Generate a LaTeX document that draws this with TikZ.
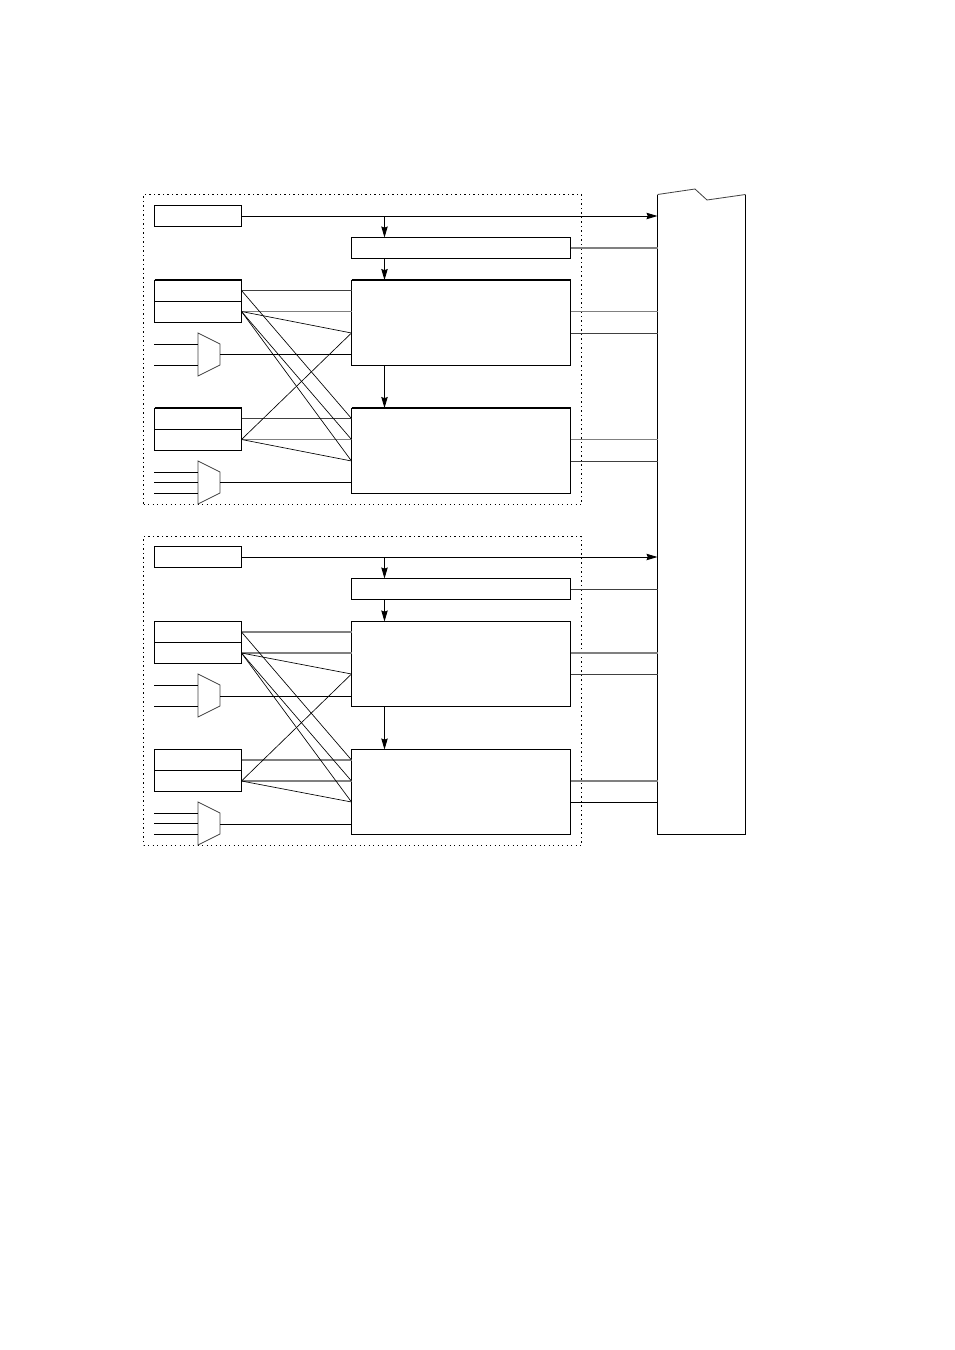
\documentclass[tikz,border=0pt]{standalone}
\usetikzlibrary{arrows.meta}
\tikzset{
  box/.style={draw,anchor=north west,inner sep=0pt,outer sep=0pt,line width=0.5pt},
  group/.style={box,line width=0.6pt,dash pattern=on 0.6pt off 1.65pt},
  wire/.style={line width=0.45pt},
  pale/.style={line width=0.7pt,black!50},
  cross/.style={line width=0.33pt},
  selector/.style={line width=0.4pt,black!75},
  feed/.style={wire,-{Stealth[length=5.5pt,width=3.2pt,inset=0.6pt]}}
}
\begin{document}
\begin{tikzpicture}[x=0.5pt,y=-0.5pt]
  \useasboundingbox (0,0) rectangle (954,1350);

  % ====================================================
  % RIGHT: TALL BOX WITH BROKEN TOP
  % ====================================================
  \node[minimum width=44pt,minimum height=320pt,inner sep=0pt,outer sep=0pt,anchor=north west] (tall) at (657.5,194.5) {};
  \draw[line width=0.5pt] (tall.south west) -- (tall.north west);
  \draw[selector] (tall.north west) -- (695,189) -- (707,200) -- (tall.north east);
  \draw[line width=0.5pt] (tall.north east) -- (tall.south east) -- (tall.south west);

  % ====================================================
  % UPPER GROUP
  % ====================================================
  \begin{scope}[shift={(0,0)}]
    \node[group,minimum width=219pt,minimum height=155pt] (groupa) at (143.5,194.5) {};

    \node[box,minimum width=43.5pt,minimum height=10.5pt] (topa) at (154.5,205.5) {};
    \node[box,minimum width=109.5pt,minimum height=10.5pt] (widea) at (351.5,237.5) {};

    \node[box,minimum width=43.5pt,minimum height=10.5pt] (regaa) at (154.5,280) {};
    \node[box,minimum width=43.5pt,minimum height=10.5pt] (regab) at (154.5,301) {};
    \node[box,minimum width=43.5pt,minimum height=10.5pt] (regac) at (154.5,408) {};
    \node[box,minimum width=43.5pt,minimum height=10.5pt] (regad) at (154.5,429) {};

    \node[box,minimum width=109.5pt,minimum height=42.5pt] (mainaa) at (351.5,280) {};
    \node[box,minimum width=109.5pt,minimum height=42.5pt] (mainab) at (351.5,408) {};
    \draw[line width=0.9pt] (regaa.north west) -- (regaa.north east);
    \draw[line width=0.9pt] (regac.north west) -- (regac.north east);
    \draw[line width=0.9pt] (mainaa.north west) -- (mainaa.north east);
    \draw[line width=0.9pt] (mainab.north west) -- (mainab.north east);

    % selectors
    \draw[selector] (198,333) -- (220,344) -- (220,365) -- (198,376) -- cycle;
    \draw[selector] (198,461) -- (220,472) -- (220,493) -- (198,504) -- cycle;
    \draw[wire] (154,344) -- (198,344);
    \draw[wire] (154,365) -- (198,365);
    \draw[wire] (154,472) -- (198,472);
    \draw[wire] (154,482.5) -- (198,482.5);
    \draw[wire] (154,493) -- (198,493);
    \draw[wire] (220,354.5) -- (mainaa.west |- 0,354.5);
    \draw[wire] (220,482.5) -- (mainab.west |- 0,482.5);

    % feeds
    \coordinate (brancha) at (384.5,216);
    \coordinate (pinaa) at (351.5,333);
    \coordinate (pinab) at (351.5,461);
    \coordinate (pinac) at (570.5,333);
    \coordinate (pinad) at (570.5,461);
    \draw[feed] (topa.east) -- (topa.east -| tall.west);
    \draw[feed] (brancha) -- (brancha |- widea.north);
    \draw[feed] (brancha |- widea.south) -- (brancha |- mainaa.north);
    \draw[feed] (brancha |- mainaa.south) -- (brancha |- mainab.north);

    % straight links
    \draw[selector] (regaa.east) -- (regaa.east -| mainaa.west);
    \draw[pale] (regab.east) -- (regab.east -| mainaa.west);
    \draw[selector] (regac.east) -- (regac.east -| mainab.west);
    \draw[pale] (regad.east) -- (regad.east -| mainab.west);

    % crossing links
    \draw[cross] (regaa.east) -- (regac.east -| mainab.west);
    \draw[cross] (regab.east) -- (regad.east -| mainab.west);
    \draw[cross] (regab.east) -- (pinab);
    \draw[cross] (regab.east) -- (pinaa);
    \draw[cross] (regad.east) -- (pinaa);
    \draw[cross] (regad.east) -- (pinab);

    % out to the tall box
    \draw[pale] (widea.east) -- (widea.east -| tall.west);
    \draw[pale] (regab.east -| mainaa.east) -- (regab.east -| tall.west);
    \draw[selector] (pinac) -- (pinac -| tall.west);
    \draw[pale] (regad.east -| mainab.east) -- (regad.east -| tall.west);
    \draw[selector] (pinad) -- (pinad -| tall.west);
  \end{scope}

  % ====================================================
  % LOWER GROUP
  % ====================================================
  \begin{scope}[shift={(0,341)}]
    \node[group,minimum width=219pt,minimum height=154.5pt] (groupb) at (143.5,195.5) {};

    \node[box,minimum width=43.5pt,minimum height=10.5pt] (topb) at (154.5,205.5) {};
    \node[box,minimum width=109.5pt,minimum height=10.5pt] (wideb) at (351.5,237.5) {};

    \node[box,minimum width=43.5pt,minimum height=10.5pt] (regba) at (154.5,280.5) {};
    \node[box,minimum width=43.5pt,minimum height=10.5pt] (regbb) at (154.5,301.5) {};
    \node[box,minimum width=43.5pt,minimum height=10.5pt] (regbc) at (154.5,408.5) {};
    \node[box,minimum width=43.5pt,minimum height=10.5pt] (regbd) at (154.5,429.5) {};

    \node[box,minimum width=109.5pt,minimum height=42.5pt] (mainba) at (351.5,280.5) {};
    \node[box,minimum width=109.5pt,minimum height=42.5pt] (mainbb) at (351.5,408.5) {};

    % selectors
    \draw[selector] (198,333) -- (220,344) -- (220,365) -- (198,376) -- cycle;
    \draw[selector] (198,461) -- (220,472) -- (220,493) -- (198,504) -- cycle;
    \draw[wire] (154,344) -- (198,344);
    \draw[wire] (154,365) -- (198,365);
    \draw[wire] (154,472) -- (198,472);
    \draw[wire] (154,482.5) -- (198,482.5);
    \draw[wire] (154,493) -- (198,493);
    \draw[wire] (220,355) -- (mainba.west |- 0,355);
    \draw[wire] (220,483.5) -- (mainbb.west |- 0,483.5);

    % feeds
    \coordinate (branchb) at (384.5,216);
    \coordinate (pinba) at (351.5,333);
    \coordinate (pinbb) at (351.5,461);
    \coordinate (pinbc) at (570.5,333);
    \coordinate (pinbd) at (570.5,461);
    \draw[feed] (topb.east) -- (topb.east -| tall.west);
    \draw[feed] (branchb) -- (branchb |- wideb.north);
    \draw[feed] (branchb |- wideb.south) -- (branchb |- mainba.north);
    \draw[feed] (branchb |- mainba.south) -- (branchb |- mainbb.north);

    % straight links
    \draw[pale] (regba.east) -- (regba.east -| mainba.west);
    \draw[pale] (regbb.east) -- (regbb.east -| mainba.west);
    \draw[pale] (regbc.east) -- (regbc.east -| mainbb.west);
    \draw[pale] (regbd.east) -- (regbd.east -| mainbb.west);

    % crossing links
    \draw[cross] (regba.east) -- (regbc.east -| mainbb.west);
    \draw[cross] (regbb.east) -- (regbd.east -| mainbb.west);
    \draw[cross] (regbb.east) -- (pinbb);
    \draw[cross] (regbb.east) -- (pinba);
    \draw[cross] (regbd.east) -- (pinba);
    \draw[cross] (regbd.east) -- (pinbb);

    % out to the tall box
    \draw[selector] (wideb.east) -- (wideb.east -| tall.west);
    \draw[pale] (regbb.east -| mainba.east) -- (regbb.east -| tall.west);
    \draw[selector] (pinbc) -- (pinbc -| tall.west);
    \draw[pale] (regbd.east -| mainbb.east) -- (regbd.east -| tall.west);
    \draw[wire] (pinbd) -- (pinbd -| tall.west);
  \end{scope}
\end{tikzpicture}
\end{document}
